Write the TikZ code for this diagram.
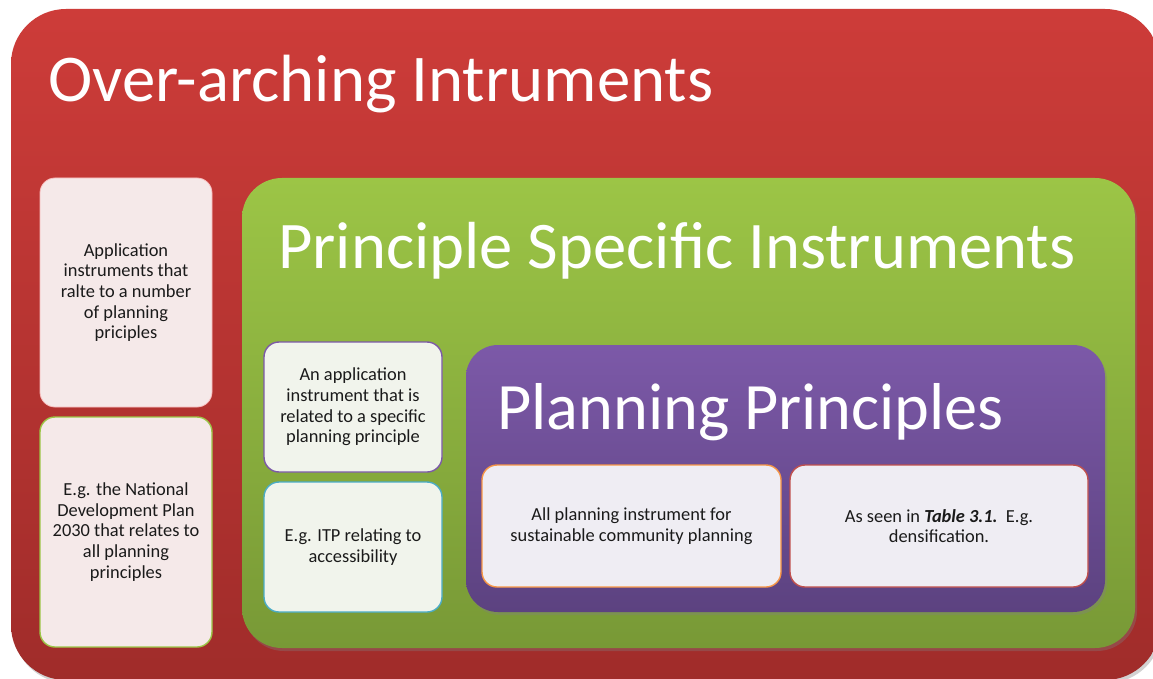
\documentclass[tikz,border=0pt]{standalone}
\usepackage{fontspec}
\setmainfont{Carlito}
\usetikzlibrary{shadows}
\definecolor{redtop}{HTML}{CD3C39}
\definecolor{redbot}{HTML}{A02C2A}
\definecolor{greentop}{HTML}{9CC546}
\definecolor{greenbot}{HTML}{789936}
\definecolor{purptop}{HTML}{7C59A8}
\definecolor{purpbot}{HTML}{5C4280}
\definecolor{pinkfill}{HTML}{F5E9E9}
\definecolor{greyfill}{HTML}{F1F4EC}
\definecolor{lilacfill}{HTML}{EFEDF3}
\definecolor{txt}{HTML}{1A1A1A}
\tikzset{
  bigbox/.style={rectangle, rounded corners=#1, inner sep=0pt, draw=none,
    drop shadow={shadow xshift=2pt, shadow yshift=-3pt, opacity=0.35}},
  smallbox/.style={rectangle, rounded corners=15pt, inner sep=0pt, line width=1.4pt,
    align=center, text=txt, font=\fontsize{18.4}{20.6}\selectfont},
  title/.style={anchor=base west, inner sep=0pt, text=white, font=\fontsize{#1}{#1}\selectfont},
}
\begin{document}
\begin{tikzpicture}[x=1pt,y=-1pt]
\useasboundingbox (0,0) rectangle (1153,679);
\fill[white] (0,0) rectangle (1153,679);
% big containers
\node[bigbox=55pt, top color=redtop, bottom color=redbot, minimum width=1149pt, minimum height=671pt] (red) at (585.5,344.5) {};
\node[title=66.8] (redtitle) at (48,102) {Over-arching Intruments};
\node[bigbox=40pt, top color=greentop, bottom color=greenbot, minimum width=893pt, minimum height=470pt] (green) at (688.5,413) {};
\node[title=66.6] (greentitle) at (278,268) {Principle Specific Instruments};
\node[bigbox=32pt, top color=purptop, bottom color=purpbot, minimum width=639pt, minimum height=267pt] (purple) at (785.5,478.5) {};
\node[title=66.3] (purpletitle) at (497,429) {Planning Principles};
% left column
\node[smallbox, fill=pinkfill, draw=pinkfill!80!red, line width=0.8pt, minimum width=172pt, minimum height=229pt] (l1) at (126,292.5)
  {Application\\instruments that\\ralte to a number\\of planning\\priciples};
\node[smallbox, fill=pinkfill, draw=greentop, minimum width=172pt, minimum height=230pt] (l2) at (126,532)
  {E.g. the National\\Development Plan\\2030 that relates to\\all planning\\principles};
% middle column
\node[smallbox, fill=greyfill, draw=purptop, minimum width=178pt, minimum height=130pt] (m1) at (353,407)
  {An application\\instrument that is\\related to a specific\\planning principle};
\node[smallbox, fill=greyfill, draw={rgb,255:red,75;green,172;blue,198}, minimum width=178pt, minimum height=130pt] (m2) at (353,547)
  {E.g. ITP relating to\\accessibility};
% right boxes
\node[smallbox, fill=lilacfill, draw={rgb,255:red,247;green,150;blue,70}, minimum width=299pt, minimum height=122pt] (r1) at (631.5,526)
  {All planning instrument for\\sustainable community planning};
\node[smallbox, fill=lilacfill, draw={rgb,255:red,192;green,80;blue,77}, minimum width=298pt, minimum height=122pt] (r2) at (939,526)
  {As seen in \textbf{\textit{Table 3.1.}}\ \ E.g.\\densification.};
\end{tikzpicture}
\end{document}
